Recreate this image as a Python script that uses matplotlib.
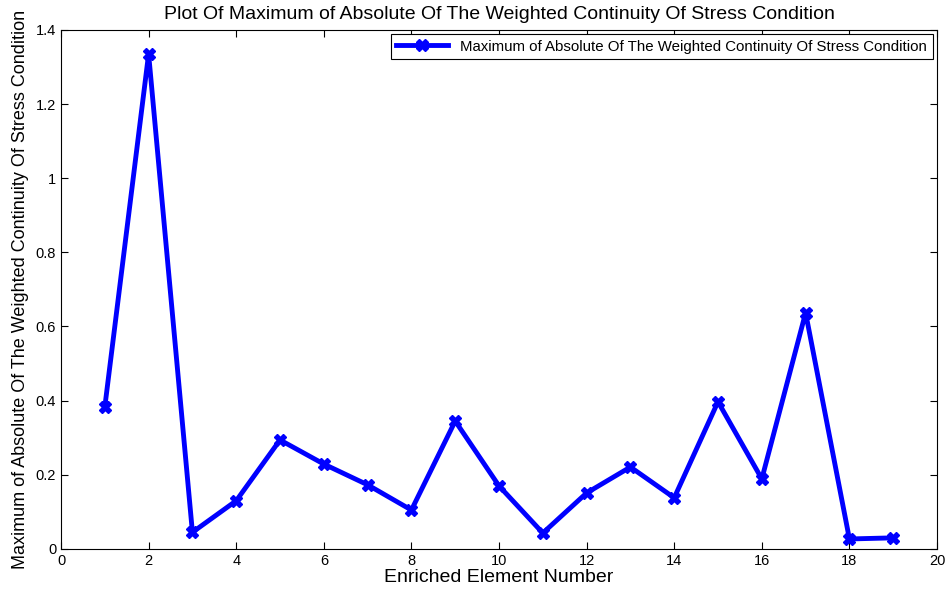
import matplotlib
matplotlib.use('Agg')
import matplotlib.pyplot as plt

plt.rcParams['font.family'] = ['Liberation Sans', 'DejaVu Sans']

element = list(range(1, 20))
max_abs = [0.383, 1.335, 0.045, 0.130, 0.294, 0.229, 0.173, 0.105, 0.345, 0.170,
           0.043, 0.151, 0.221, 0.138, 0.397, 0.189, 0.637, 0.027, 0.030]
label = 'Maximum of Absolute Of The Weighted Continuity Of Stress Condition'

fig = plt.figure(figsize=(9.46, 5.96), dpi=100)
ax = fig.add_axes([0.0645, 0.0789, 0.926, 0.871])
ax.plot(element, max_abs, color='blue', linewidth=3.5, marker='X', markersize=9,
        label=label)
ax.set_xlim(0, 20)
ax.set_ylim(0, 1.4)
ax.set_xticks(range(0, 21, 2))
ax.set_yticks([0, 0.2, 0.4, 0.6, 0.8, 1.0, 1.2, 1.4])
ax.set_yticklabels(['0', '0.2', '0.4', '0.6', '0.8', '1', '1.2', '1.4'])
ax.tick_params(direction='in', top=True, right=True, labelsize=10.5, length=5)
ax.set_title('Plot Of Maximum of Absolute Of The Weighted Continuity Of Stress Condition',
             fontsize=14, pad=8)
ax.set_xlabel('Enriched Element Number', fontsize=14, labelpad=1)
ax.set_ylabel(label, fontsize=13, labelpad=5)
leg = ax.legend(loc='upper right', fontsize=10.8, fancybox=False, framealpha=1,
                edgecolor='black', borderaxespad=0.3, handlelength=3.5,
                borderpad=0.35)
leg.get_frame().set_linewidth(0.8)

fig.savefig('out.png', dpi=100)
